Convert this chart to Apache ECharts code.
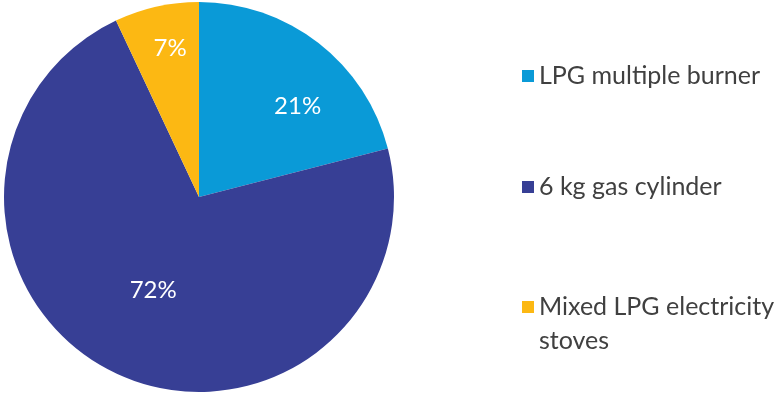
<!DOCTYPE html>
<html>
<head>
<meta charset="utf-8">
<script src="https://cdn.jsdelivr.net/npm/echarts@6/dist/echarts.min.js"></script>
<style>
  html, body { margin: 0; padding: 0; background: #fff; }
  #main { width: 782px; height: 396px; }
</style>
</head>
<body>
<div id="main"></div>
<script>
// data
var categories = ['LPG multiple burner', '6 kg gas cylinder', 'Mixed LPG electricity\nstoves'];
var values = [21, 72, 7];
var colors = ['#0a9ad7', '#373f95', '#fcb813'];

// nudges so the % labels sit where the original put them
var labelShift = [[37, -11], [-3, 2], [-7, -51]];
var legendTop = [59, 170, 256];

var myChart = echarts.init(document.getElementById('main'));

var pieData = [];
for (var i = 0; i < categories.length; i++) {
  pieData.push({name: categories[i], value: values[i], itemStyle: {color: colors[i]}});
}

var legends = [];
for (var j = 0; j < categories.length; j++) {
  legends.push({
    data: [categories[j]],
    orient: 'vertical',
    left: 522,
    top: legendTop[j],
    padding: 0,
    icon: 'rect',
    itemWidth: 12,
    itemHeight: 12,
    selectedMode: false,
    // two-line names: blank first line keeps the square level with the first text line
    formatter: function (name) {
      return name.indexOf('\n') > -1 ? '\n' + name : name;
    },
    textStyle: {
      fontFamily: 'Lato',
      fontSize: 25,
      color: '#404040',
      lineHeight: 34
    }
  });
}

myChart.setOption({
  animation: false,
  legend: legends,
  series: [{
    type: 'pie',
    center: [199, 197],
    radius: 195,
    startAngle: 90,
    clockwise: true,
    data: pieData,
    label: {
      position: 'inside',
      formatter: '{c}%',
      color: '#fff',
      fontFamily: 'Lato',
      fontSize: 24
    },
    labelLine: {show: false},
    labelLayout: function (params) {
      return {dx: labelShift[params.dataIndex][0], dy: labelShift[params.dataIndex][1]};
    },
    emphasis: {disabled: true}
  }]
});
</script>
</body>
</html>
